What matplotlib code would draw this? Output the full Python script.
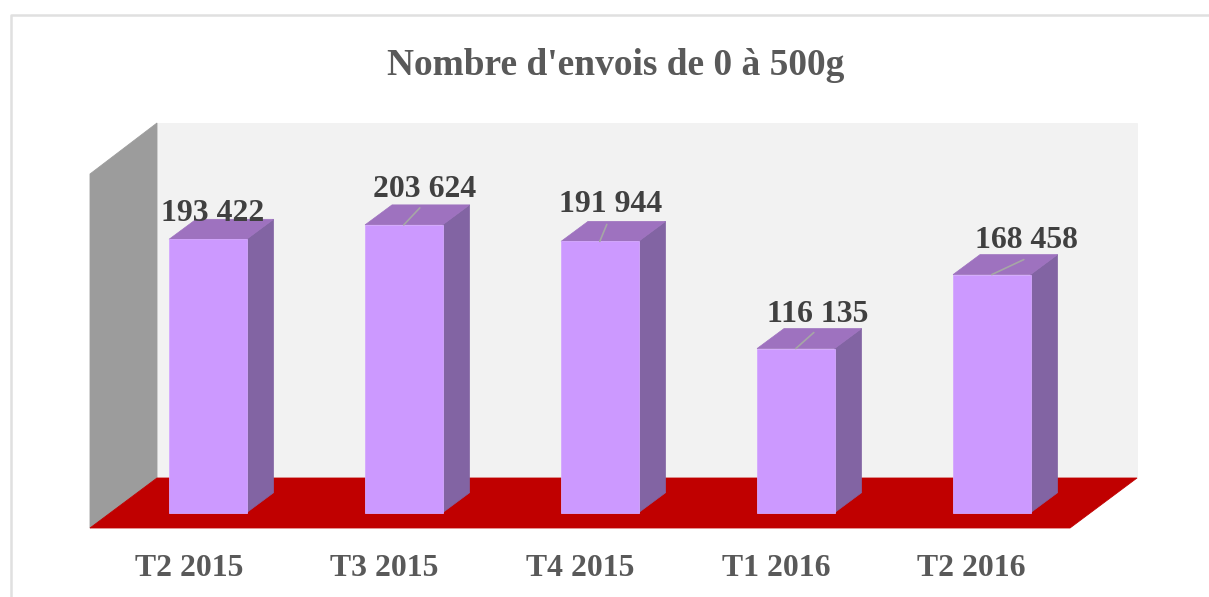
import matplotlib
matplotlib.use('Agg')
import matplotlib.pyplot as plt
from matplotlib.patches import Polygon

plt.rcParams['font.family'] = ['Liberation Serif', 'DejaVu Serif']

categories = ['T2 2015', 'T3 2015', 'T4 2015', 'T1 2016', 'T2 2016']
values = [193422, 203624, 191944, 116135, 168458]
value_labels = ['193 422', '203 624', '191 944', '116 135', '168 458']

# decalage des etiquettes et des traits de rappel (pixels, depuis le haut de la barre)
label_offset = [(5, 26), (21, 35), (11, 37), (22, 34), (35, 34)]
leader_end = [None, (16, 17), (7, 17), (18, 16), (32, 15)]

W, H = 1209, 597
X0, DX = 207.8, 196    # centre de la 1ere categorie, ecart
Y0 = 512.7             # pixel de la valeur 0
PX_PER_UNIT = 273.4 / 193422
BAR_W = 77.5
DEPTH_X, DEPTH_Y = 27, 20


def xp(px):
    return (px - X0) / DX


def yp(py):
    return (Y0 - py) / PX_PER_UNIT


def quad(ax, pts, color, z, edge=None):
    ax.add_patch(Polygon([(xp(a), yp(b)) for a, b in pts], closed=True, facecolor=color,
                         edgecolor=edge if edge else color, linewidth=0.6, zorder=z))


fig = plt.figure(figsize=(W / 100, H / 100), dpi=100)
ax = fig.add_axes([0, 0, 1, 1])
ax.set_xlim(xp(0), xp(W))
ax.set_ylim(yp(H), yp(0))
ax.axis('off')

# cadre du graphique, coupe a droite et en bas
ax.plot([xp(11), xp(11), xp(W + 5)], [yp(H + 5), yp(14.5), yp(14.5)], color='#e0e0e0', lw=1.8, zorder=1)

# murs et sol
quad(ax, [(157, 123), (1137, 123), (1137, 478), (157, 478)], '#f2f2f2', 2)
quad(ax, [(90, 174), (157, 123), (157, 478), (90, 528)], '#9c9c9c', 3)
quad(ax, [(90, 528), (157, 478), (1137, 478), (1070, 528)], '#c00000', 3)

# barres
bw = BAR_W / DX
ddx = DEPTH_X / DX
ddy = DEPTH_Y / PX_PER_UNIT
for i, v in enumerate(values):
    left, right = i - bw / 2, i + bw / 2
    side = [(right, 0), (right + ddx, ddy), (right + ddx, v + ddy), (right, v)]
    top = [(left, v), (right, v), (right + ddx, v + ddy), (left + ddx, v + ddy)]
    ax.add_patch(Polygon(side, facecolor='#8264a3', edgecolor='#8264a3', linewidth=0.5, zorder=4))
    ax.add_patch(Polygon(top, facecolor='#9e72bf', edgecolor='#9e72bf', linewidth=0.5, zorder=4))
    ax.bar(i, v, width=bw, color='#cc99ff', edgecolor='#d4a8ff', linewidth=0.6, zorder=5)

    if leader_end[i] is not None:
        ax.annotate('', xy=(i, v), xytext=leader_end[i], textcoords='offset pixels',
                    arrowprops=dict(arrowstyle='-', color='#a6a6a6', lw=1.2, shrinkA=0, shrinkB=0),
                    zorder=6)
    ax.annotate(value_labels[i], xy=(i, v), xytext=label_offset[i], textcoords='offset pixels',
                ha='center', va='center', fontsize=22.9, fontweight='bold', color='#404040', zorder=7)
    ax.text(xp(189 + 195.6 * i), yp(568), categories[i], ha='center', va='center', fontsize=22.9,
            fontweight='bold', color='#595959', zorder=7)

ax.text(xp(615.5), yp(65.5), "Nombre d'envois de 0 à 500g", ha='center', va='center', fontsize=26.9,
        fontweight='bold', color='#595959', zorder=7)

fig.savefig('out.png', dpi=100, facecolor='white')
